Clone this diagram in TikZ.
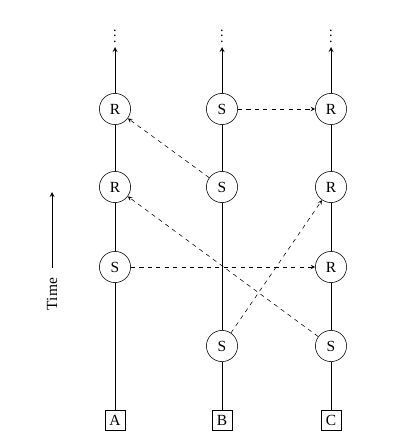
\documentclass[tikz,border=0pt]{standalone}
\usepackage{fontspec}
\setmainfont{Liberation Serif}
\usetikzlibrary{arrows.meta}

\tikzset{
  event/.style={draw, circle, minimum size=0.78cm, inner sep=0pt, fill=white, font=\fontsize{11}{13}\selectfont},
  proc/.style={draw, rectangle, minimum size=0.5cm, inner sep=0pt, font=\fontsize{11}{13}\selectfont},
  msg/.style={dashed, -stealth},
  line/.style={semithick}
}

\begin{document}
\begin{tikzpicture}[x=0.025cm, y=-0.025cm]
  \useasboundingbox (0,0) rectangle (401,439);

  % Processes
  \node[proc] (A) at (115,420) {A};
  \node[proc] (B) at (222,420) {B};
  \node[proc] (C) at (331,420) {C};

  % Send and receive events
  \node[event] (rA1) at (115,109) {R};
  \node[event] (rA2) at (115,187) {R};
  \node[event] (sA3) at (115,267) {S};

  \node[event] (sB1) at (222,109) {S};
  \node[event] (sB2) at (222,187) {S};
  \node[event] (sB4) at (222,346) {S};

  \node[event] (rC1) at (331,109) {R};
  \node[event] (rC2) at (331,187) {R};
  \node[event] (rC3) at (331,267) {R};
  \node[event] (sC4) at (331,346) {S};

  % Ends of the time lines
  \coordinate (topA) at (115,47);
  \coordinate (topB) at (222,47);
  \coordinate (topC) at (331,47);
  \node (dA) at (115,32) {$\vdots$};
  \node (dB) at (222,32) {$\vdots$};
  \node (dC) at (331,32) {$\vdots$};

  % Time lines
  \draw[line, -stealth] (A) -- (sA3) -- (rA2) -- (rA1) -- (topA);
  \draw[line, -stealth] (B) -- (sB4) -- (sB2) -- (sB1) -- (topB);
  \draw[line, -stealth] (C) -- (sC4) -- (rC3) -- (rC2) -- (rC1) -- (topC);

  % Messages
  \draw[msg] (sB1) -- (rC1);
  \draw[msg] (sB2) -- (rA1);
  \draw[msg] (sA3) -- (rC3);
  \draw[msg] (sC4) -- (rA2);
  \draw[msg] (sB4) -- (rC2);

  % Time axis
  \coordinate (t0) at (52,268);
  \coordinate (t1) at (52,192);
  \draw[line, -stealth] (t0) -- (t1);
  \node[rotate=90, anchor=east, font=\fontsize{11}{13}\selectfont] (time) at (52,273) {Time};

\end{tikzpicture}
\end{document}
